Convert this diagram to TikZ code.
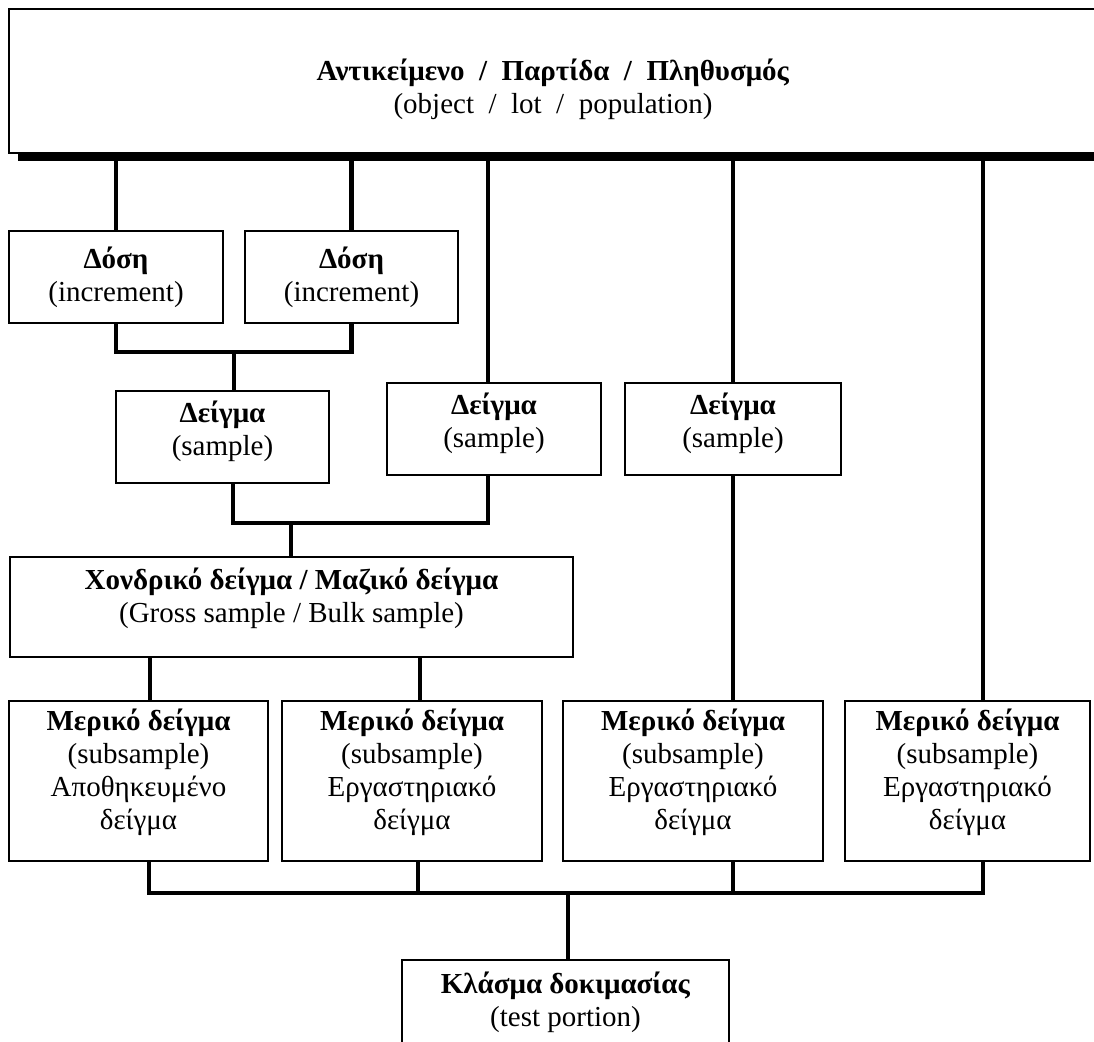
\documentclass[tikz,border=0pt]{standalone}
\usepackage{fontspec}
\setmainfont{Liberation Serif}
\begin{document}
\begin{tikzpicture}[x=1pt,y=-1pt,line join=miter,font=\fontsize{29}{33}\selectfont]
    \tikzset{box/.style={draw,line width=2pt,inner sep=0pt},
             txt/.style={align=center,inner sep=0pt},
             conn/.style={line width=4.5pt}}
    \useasboundingbox (0,0) rectangle (1094,1041);
    \clip (0,0) rectangle (1094,1041);
    \node[box,minimum width=1088pt,minimum height=144pt] (obj) at (553,81) {};
    \fill ([xshift=10pt]obj.south west) rectangle ([xshift=10pt,yshift=-7pt]obj.south east);
    \node[txt] (objtxt) at ([yshift=-8pt]obj.center) {\textbf{Αντικείμενο \ / \ Παρτίδα \ / \ Πληθυσμός}\\(object \ / \ lot \ / \ population)};
    \coordinate (bar) at ([yshift=-5pt]obj.south);
    \node[box,minimum width=214pt,minimum height=92pt] (dose1) at (116,277) {};
    \node[txt] (dose1txt) at (dose1.center) {\textbf{Δόση}\\(increment)};
    \node[box,minimum width=213pt,minimum height=92pt] (dose2) at (351.5,277) {};
    \node[txt] (dose2txt) at (dose2.center) {\textbf{Δόση}\\(increment)};
    \node[box,minimum width=213pt,minimum height=92pt] (smp1) at (222.5,437) {};
    \node[txt] (smp1txt) at ([yshift=6pt]smp1.center) {\textbf{Δείγμα}\\(sample)};
    \node[box,minimum width=214pt,minimum height=92pt] (smp2) at (494,429) {};
    \node[txt] (smp2txt) at ([yshift=6pt]smp2.center) {\textbf{Δείγμα}\\(sample)};
    \node[box,minimum width=216pt,minimum height=92pt] (smp3) at (733,429) {};
    \node[txt] (smp3txt) at ([yshift=6pt]smp3.center) {\textbf{Δείγμα}\\(sample)};
    \node[box,minimum width=563pt,minimum height=100pt] (gross) at (291.5,607) {};
    \node[txt] (grosstxt) at ([yshift=9pt]gross.center) {\textbf{Χονδρικό δείγμα / Μαζικό δείγμα}\\(Gross sample / Bulk sample)};
    \node[box,minimum width=259pt,minimum height=160pt] (sub1) at (138.5,781) {};
    \node[txt] (sub1txt) at ([yshift=9pt]sub1.center) {\textbf{Μερικό δείγμα}\\(subsample)\\Αποθηκευμένο\\δείγμα};
    \node[box,minimum width=260pt,minimum height=160pt] (sub2) at (412,781) {};
    \node[txt] (sub2txt) at ([yshift=9pt]sub2.center) {\textbf{Μερικό δείγμα}\\(subsample)\\Εργαστηριακό\\δείγμα};
    \node[box,minimum width=260pt,minimum height=160pt] (sub3) at (693,781) {};
    \node[txt] (sub3txt) at ([yshift=9pt]sub3.center) {\textbf{Μερικό δείγμα}\\(subsample)\\Εργαστηριακό\\δείγμα};
    \node[box,minimum width=245pt,minimum height=160pt] (sub4) at (967.5,781) {};
    \node[txt] (sub4txt) at ([yshift=9pt]sub4.center) {\textbf{Μερικό δείγμα}\\(subsample)\\Εργαστηριακό\\δείγμα};
    \node[box,minimum width=327pt,minimum height=90pt] (test) at (565.5,1005) {};
    \node[txt] (testtxt) at ([yshift=3pt]test.center) {\textbf{Κλάσμα δοκιμασίας}\\(test portion)};
    \coordinate (jd) at (234,352);
    \coordinate (js) at (291,523);
    \coordinate (jt) at (568,893);
    \draw[conn] (dose1.north) -- (dose1.north |- bar);
    \draw[conn] (dose2.north) -- (dose2.north |- bar);
    \draw[conn] ([xshift=-6pt]smp2.north) -- ([xshift=-6pt]smp2.north |- bar);
    \draw[conn] (smp3.north) -- (smp3.north |- bar);
    \draw[conn] ([xshift=15.5pt]sub4.north) -- ([xshift=15.5pt]sub4.north |- bar);
    \draw[conn] (dose1.south) |- (jd) -| (dose2.south);
    \draw[conn] (jd) -- (jd |- smp1.north);
    \draw[conn] ([xshift=10.5pt]smp1.south) |- (js) -| ([xshift=-6pt]smp2.south);
    \draw[conn] (js) -- (js |- gross.north);
    \draw[conn] ([xshift=11.5pt]sub1.north) -- ([xshift=11.5pt]sub1.north |- gross.south);
    \draw[conn] ([xshift=8pt]sub2.north) -- ([xshift=8pt]sub2.north |- gross.south);
    \draw[conn] (smp3.south) -- (smp3.south |- sub3.north);
    \draw[conn] ([xshift=10.5pt]sub1.south) |- (jt) -| ([xshift=15.5pt]sub4.south);
    \draw[conn] ([xshift=6pt]sub2.south) -- ([xshift=6pt]sub2.south |- jt);
    \draw[conn] (smp3.south |- sub3.south) -- (smp3.south |- jt);
    \draw[conn] (jt) -- (jt |- test.north);
\end{tikzpicture}
\end{document}
